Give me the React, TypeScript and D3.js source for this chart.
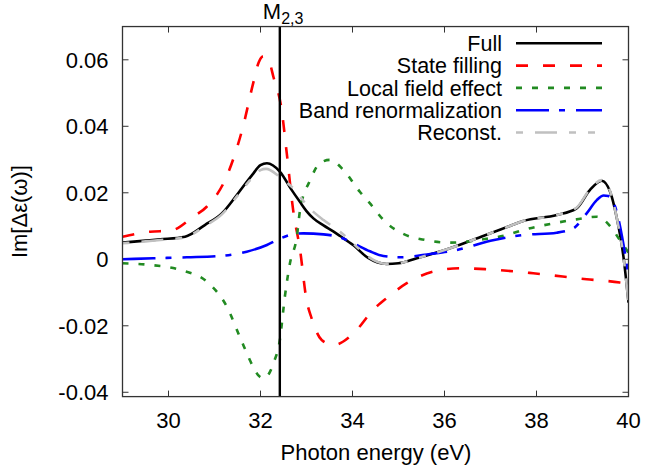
import React from "react";
import * as d3 from "d3";

const xTicks = [30, 32, 34, 36, 38, 40];
const yTicks = [-0.04, -0.02, 0, 0.02, 0.04, 0.06];
const yTickLabels = ["-0.04", "-0.02", "0", "0.02", "0.04", "0.06"];
const markerX = 32.42;

const fullX = [29.0, 29.5, 29.82, 30.36, 30.79, 31.16, 31.51, 31.82, 32.0, 32.14, 32.42, 32.68, 32.86, 33.0, 33.15, 33.37, 33.59, 33.73, 34.02, 34.34, 34.74, 35.0, 35.4, 36.12, 36.84, 37.42, 37.71, 38.44, 38.87, 39.16, 39.42, 39.6, 39.74, 39.89, 40.0];
const fullY = [0.005, 0.0056, 0.006, 0.0068, 0.0103, 0.0138, 0.0198, 0.0254, 0.0283, 0.0289, 0.0264, 0.0208, 0.0172, 0.0145, 0.0123, 0.0102, 0.0083, 0.007, 0.0042, 0.0004, -0.0014, -0.0012, 0.0003, 0.0033, 0.007, 0.010, 0.0115, 0.0133, 0.0153, 0.0208, 0.0236, 0.0203, 0.0128, 0.0008, -0.013];

const sfX = [29.0, 29.6, 30.04, 30.54, 30.83, 31.26, 31.62, 31.84, 31.96, 32.06, 32.18, 32.28, 32.46, 32.57, 32.71, 32.86, 33.0, 33.11, 33.33, 33.58, 34.02, 34.45, 34.74, 35.18, 35.76, 36.34, 36.92, 37.93, 39.09, 39.81, 40.0];
const sfY = [0.0068, 0.0083, 0.0086, 0.0128, 0.0158, 0.0248, 0.0399, 0.0529, 0.0592, 0.0611, 0.0598, 0.0549, 0.0449, 0.032, 0.0148, 0.0028, -0.0122, -0.0177, -0.0243, -0.0258, -0.0223, -0.0152, -0.0117, -0.0072, -0.0037, -0.0027, -0.003, -0.0042, -0.006, -0.007, -0.0075];

const lfeX = [29.0, 29.6, 30.26, 30.83, 31.27, 31.55, 31.84, 31.96, 32.06, 32.18, 32.28, 32.42, 32.53, 32.64, 32.79, 32.86, 33.08, 33.29, 33.51, 33.8, 34.16, 34.38, 34.71, 35.08, 35.58, 36.12, 36.84, 37.35, 37.71, 38.44, 38.87, 39.31, 39.6, 39.81, 39.96, 40.0];
const lfeY = [-0.0012, -0.0017, -0.0032, -0.0067, -0.0143, -0.0233, -0.0323, -0.035, -0.0358, -0.0345, -0.0313, -0.0243, -0.0112, -0.0012, 0.0068, 0.0148, 0.0238, 0.0289, 0.0299, 0.0269, 0.0203, 0.0168, 0.0113, 0.0078, 0.0058, 0.005, 0.006, 0.0073, 0.0088, 0.011, 0.012, 0.0128, 0.010, 0.0058, 0.0028, 0.002];

const bandX = [29.0, 29.67, 30.4, 31.12, 31.7, 32.14, 32.36, 32.64, 32.93, 33.37, 33.73, 34.02, 34.38, 34.67, 35.04, 35.69, 36.27, 37.0, 37.71, 38.44, 38.8, 39.09, 39.31, 39.46, 39.56, 39.71, 39.86, 40.0];
const bandY = [0.0, 0.0003, 0.0006, 0.001, 0.0023, 0.0043, 0.0058, 0.0073, 0.0078, 0.0075, 0.0066, 0.0048, 0.0024, 0.001, 0.0006, 0.0016, 0.0028, 0.0056, 0.0073, 0.008, 0.0093, 0.0138, 0.0178, 0.0192, 0.019, 0.0158, 0.0068, -0.0052];

const recX = [29.0, 29.5, 29.82, 30.36, 30.79, 31.16, 31.51, 31.82, 32.0, 32.12, 32.42, 32.68, 33.07, 33.37, 33.73, 34.09, 34.34, 34.74, 35.0, 35.4, 36.12, 36.84, 37.42, 37.71, 38.44, 38.87, 39.16, 39.42, 39.6, 39.74, 39.89, 40.0];
const recY = [0.0048, 0.0054, 0.0058, 0.0066, 0.010, 0.0135, 0.0193, 0.0245, 0.0268, 0.0272, 0.0248, 0.0218, 0.0153, 0.0118, 0.0083, 0.0038, 0.0008, -0.0014, -0.0012, 0.0003, 0.0033, 0.007, 0.010, 0.0115, 0.0133, 0.0155, 0.021, 0.0238, 0.0205, 0.0128, 0.0008, -0.013];

const seriesNames = ["Full", "State filling", "Local field effect", "Band renormalization", "Reconst."];

const W = 646;
const H = 470;
const FONT = "'Liberation Sans', Arial, Helvetica, sans-serif";

export default function App() {
  const x = d3.scaleLinear().domain([29, 40]).range([122.5, 628.5]);
  const y = d3.scaleLinear().domain([-0.0413, 0.07]).range([396.6, 26.55]);
  const [x0, x1] = x.range();
  const [y0, y1] = y.range();

  const line = d3
    .line<[number, number]>()
    .x((d) => x(d[0]))
    .y((d) => y(d[1]))
    .curve(d3.curveMonotoneX);

  const zip = (xs: number[], ys: number[]) => xs.map((v, i) => [v, ys[i]] as [number, number]);

  const series = [
    { name: seriesNames[0], d: zip(fullX, fullY), color: "#000000", dash: "none", offset: 0 },
    { name: seriesNames[1], d: zip(sfX, sfY), color: "#ff0000", dash: "12 15", offset: 0 },
    { name: seriesNames[2], d: zip(lfeX, lfeY), color: "#228b22", dash: "6 10", offset: 0 },
    { name: seriesNames[3], d: zip(bandX, bandY), color: "#0000ff", dash: "33 10 6 11", offset: 0 },
    { name: seriesNames[4], d: zip(recX, recY), color: "#c0c0c0", dash: "22 12 7 12 7 12", offset: 53 },
  ];

  const tickLen = 6;
  const legendRowY = (i: number) => 43.3 + i * 22.3;

  return (
    <svg
      width={W}
      height={H}
      style={{ position: "absolute", left: 0, top: 0, background: "#fff" }}
      fontFamily={FONT}
    >
      <defs>
        <clipPath id="plotclip">
          <rect x={x0} y={y1} width={x1 - x0} height={y0 - y1} />
        </clipPath>
      </defs>
      <rect x={0} y={0} width={W} height={H} fill="#fff" />

      {/* ticks */}
      <g stroke="#333" strokeWidth={1}>
        {xTicks.map((t) => (
          <g key={"xt" + t}>
            <line x1={x(t)} x2={x(t)} y1={y0} y2={y0 - tickLen} />
            <line x1={x(t)} x2={x(t)} y1={y1} y2={y1 + tickLen} />
          </g>
        ))}
        {yTicks.map((t) => (
          <g key={"yt" + t}>
            <line x1={x0} x2={x0 + tickLen} y1={y(t)} y2={y(t)} />
            <line x1={x1} x2={x1 - tickLen} y1={y(t)} y2={y(t)} />
          </g>
        ))}
      </g>

      {/* tick labels */}
      <g fontSize={22} fill="#000">
        {xTicks.map((t) => (
          <text key={"xl" + t} x={x(t)} y={428} textAnchor="middle">
            {String(t)}
          </text>
        ))}
        {yTicks.map((t, i) => (
          <text key={"yl" + t} x={108.5} y={y(t) + 7.8} textAnchor="end">
            {yTickLabels[i]}
          </text>
        ))}
      </g>

      {/* axis titles */}
      <text x={(x0 + x1) / 2 + 0.5} y={460} fontSize={22} textAnchor="middle" fill="#000">
        Photon energy (eV)
      </text>
      <text
        transform={`translate(27,${(y0 + y1) / 2}) rotate(-90)`}
        fontSize={22}
        textAnchor="middle"
        fill="#000"
      >
        Im[Δε(ω)]
      </text>

      {/* curves */}
      <g clipPath="url(#plotclip)" fill="none" strokeWidth={2.6} strokeLinejoin="round">
        {series.map((s) => (
          <path
            key={s.name}
            d={line(s.d) || ""}
            stroke={s.color}
            strokeDasharray={s.dash}
            strokeDashoffset={s.offset}
          />
        ))}
      </g>

      {/* marker line */}
      <line x1={x(markerX)} x2={x(markerX)} y1={y0} y2={y1} stroke="#000" strokeWidth={2.4} />
      <text x={x(markerX) - 17} y={18.5} fontSize={22} fill="#000">
        M
        <tspan fontSize={16} dy={5}>
          2,3
        </tspan>
      </text>

      {/* legend */}
      <g fontSize={21.5} fill="#000">
        {series.map((s, i) => (
          <g key={"lg" + s.name}>
            <text x={502} y={legendRowY(i) + 7.6} textAnchor="end">
              {s.name}
            </text>
            <line
              x1={516}
              x2={602}
              y1={legendRowY(i)}
              y2={legendRowY(i)}
              stroke={s.color}
              strokeWidth={2.6}
              strokeDasharray={s.dash}
              strokeDashoffset={s.offset}
            />
          </g>
        ))}
      </g>

      {/* frame */}
      <rect x={x0} y={y1} width={x1 - x0} height={y0 - y1} fill="none" stroke="#333" strokeWidth={1.3} />
    </svg>
  );
}
